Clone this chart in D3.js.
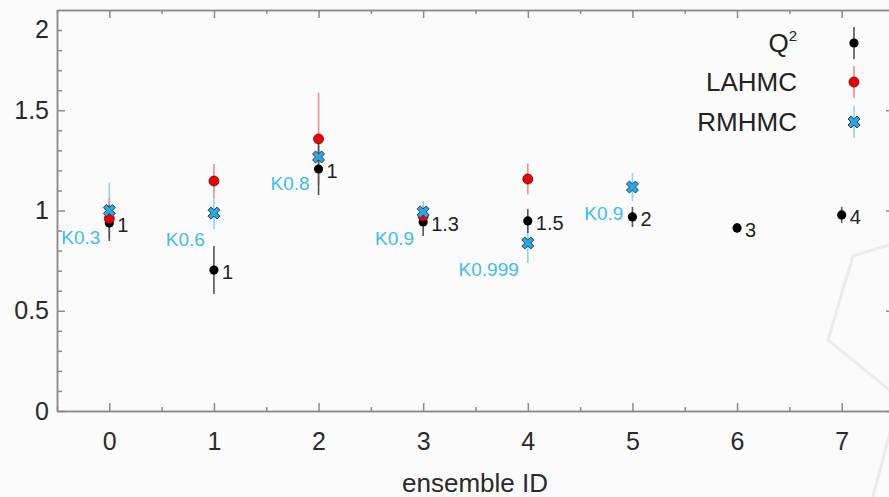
<!DOCTYPE html>
<html lang="en">
<head>
    <meta charset="UTF-8"/>
    <title>ensemble ID chart</title>
    <script src="https://d3js.org/d3.v7.min.js"></script>
    <style>
        body { margin: 0; background: #fbfbfb; }
        svg { display: block; font-family: "Liberation Sans", Arial, sans-serif; }
        .axis path, .axis line { stroke: #8a8a8a; stroke-width: 1.5; }
        .axis text { fill: #2a2a2a; }
    </style>
</head>
<body>
<script>

    var w = 889;
    var h = 497;

    // data set
    var ensembles = [0, 1, 2, 3, 4, 5, 6, 7];

    var q2Values = [0.938, 0.703, 1.207, 0.943, 0.948, 0.968, 0.913, 0.978];
    var q2Errors = [0.09, 0.12, 0.13, 0.07, 0.06, 0.05, 0.025, 0.04];
    var q2Labels = ["1", "1", "1", "1.3", "1.5", "2", "3", "4"];

    var laEnsembles = [0, 1, 2, 3, 4];
    var laValues = [0.96, 1.147, 1.357, 0.972, 1.157];
    var laErrors = [0.10, 0.085, 0.23, 0.05, 0.077];

    var rmEnsembles = [0, 1, 2, 3, 4, 5];
    var rmValues = [1.0, 0.987, 1.267, 0.993, 0.838, 1.117];
    var rmErrors = [0.14, 0.08, 0.05, 0.055, 0.10, 0.07];
    var rmLabels = ["K0.3", "K0.6", "K0.8", "K0.9", "K0.999", "K0.9"];

    var yTicks = [0, 0.5, 1, 1.5];

    var xScale = d3.scaleLinear()
                    .domain([-0.5, 7.5])
                    .range([57, 894]);

    var yScale = d3.scaleLinear()
                    .domain([0, 2])
                    .range([411, 10]);

    var svg = d3.select("body")
                .append("svg")
                .attr("width", w)
                .attr("height", h);

    svg.append("rect")
        .attr("width", w).attr("height", h)
        .attr("fill", "#fbfbfb");

    // faint watermark shape in the corner
    var mark = d3.line();
    svg.append("path")
        .attr("d", mark([[892, 244], [853, 256], [828, 340], [892, 392]]))
        .attr("fill", "none").attr("stroke", "#ebebeb").attr("stroke-width", 3);
    svg.append("path")
        .attr("d", mark([[892, 425], [872, 500]]))
        .attr("fill", "none").attr("stroke", "#ebebeb").attr("stroke-width", 3);

    // axes: major + minor ticks on all four sides
    var halfTicks = d3.range(-0.5, 7.6, 1);
    var tenthTicks = d3.range(0.1, 2.0, 0.1).filter(function(v){
        return Math.abs(v * 2 - Math.round(v * 2)) > 0.01;
    });

    svg.append("g").attr("class", "axis")
        .attr("transform", "translate(0," + yScale(0) + ")")
        .call(d3.axisBottom(xScale).tickValues(ensembles).tickFormat(d3.format("d"))
            .tickSizeInner(-8).tickSizeOuter(0).tickPadding(21))
        .selectAll("text").style("font-size", "25px");

    svg.append("g").attr("class", "axis")
        .attr("transform", "translate(0," + yScale(0) + ")")
        .call(d3.axisBottom(xScale).tickValues(halfTicks).tickFormat("")
            .tickSizeInner(-4).tickSizeOuter(0));

    svg.append("g").attr("class", "axis")
        .attr("transform", "translate(0," + yScale(2) + ")")
        .call(d3.axisTop(xScale).tickValues(ensembles).tickFormat("")
            .tickSizeInner(-8).tickSizeOuter(0));

    svg.append("g").attr("class", "axis")
        .attr("transform", "translate(0," + yScale(2) + ")")
        .call(d3.axisTop(xScale).tickValues(halfTicks).tickFormat("")
            .tickSizeInner(-4).tickSizeOuter(0));

    svg.append("g").attr("class", "axis")
        .attr("transform", "translate(" + xScale(-0.5) + ",0)")
        .call(d3.axisLeft(yScale).tickValues(yTicks).tickFormat(d3.format("~g"))
            .tickSizeInner(-8).tickSizeOuter(0).tickPadding(8))
        .selectAll("text").style("font-size", "25px");

    svg.append("g").attr("class", "axis")
        .attr("transform", "translate(" + xScale(-0.5) + ",0)")
        .call(d3.axisLeft(yScale).tickValues(tenthTicks).tickFormat("")
            .tickSizeInner(-5).tickSizeOuter(0));

    svg.append("g").attr("class", "axis")
        .attr("transform", "translate(" + xScale(7.5) + ",0)")
        .call(d3.axisRight(yScale).tickValues(yTicks).tickFormat("")
            .tickSizeInner(-8).tickSizeOuter(0));

    svg.append("g").attr("class", "axis")
        .attr("transform", "translate(" + xScale(7.5) + ",0)")
        .call(d3.axisRight(yScale).tickValues(tenthTicks).tickFormat("")
            .tickSizeInner(-5).tickSizeOuter(0));

    // top label "2" sits a little below the frame edge
    svg.append("text")
        .attr("x", xScale(-0.5) - 8)
        .attr("y", yScale(1.9) + 8)
        .attr("text-anchor", "end")
        .style("font-size", "25px")
        .attr("fill", "#2a2a2a")
        .text("2");

    svg.append("text")
        .attr("x", 475)
        .attr("y", 492)
        .attr("text-anchor", "middle")
        .style("font-size", "26px")
        .attr("fill", "#2a2a2a")
        .text("ensemble ID");

    // error bars: blue, red, then black
    function errBars(xs, vals, errs, color, width) {
        svg.append("g").selectAll("line")
            .data(vals)
            .enter()
            .append("line")
            .attr("x1", function(d, i){ return xScale(xs[i]); })
            .attr("x2", function(d, i){ return xScale(xs[i]); })
            .attr("y1", function(d, i){ return yScale(d - errs[i]); })
            .attr("y2", function(d, i){ return yScale(d + errs[i]); })
            .attr("stroke", color)
            .attr("stroke-width", width);
    }
    errBars(rmEnsembles, rmValues, rmErrors, "#86d4f5", 1.6);
    errBars(laEnsembles, laValues, laErrors, "#f58a8a", 1.6);
    errBars(ensembles, q2Values, q2Errors, "#555", 1.6);

    // markers
    svg.append("g").selectAll("circle")
        .data(q2Values)
        .enter()
        .append("circle")
        .attr("cx", function(d, i){ return xScale(ensembles[i]); })
        .attr("cy", function(d){ return yScale(d); })
        .attr("r", 4.6)
        .attr("fill", "#000");

    svg.append("g").selectAll("circle")
        .data(laValues)
        .enter()
        .append("circle")
        .attr("cx", function(d, i){ return xScale(laEnsembles[i]); })
        .attr("cy", function(d){ return yScale(d); })
        .attr("r", 5)
        .attr("fill", "#f00000")
        .attr("stroke", "#5a1010")
        .attr("stroke-width", 0.8);

    var xSymbol = d3.symbol().type(d3.symbolCross).size(90);

    svg.append("g").selectAll("path")
        .data(rmValues)
        .enter()
        .append("path")
        .attr("d", xSymbol)
        .attr("transform", function(d, i){
            return "translate(" + xScale(rmEnsembles[i]) + "," + yScale(d) + ") rotate(45)";
        })
        .attr("fill", "#2aa6e6")
        .attr("stroke", "#1d3c55")
        .attr("stroke-width", 0.9);

    // text labels beside points
    svg.append("g").selectAll("text")
        .data(q2Labels)
        .enter()
        .append("text")
        .attr("x", function(d, i){ return xScale(ensembles[i]) + 8; })
        .attr("y", function(d, i){ return yScale(q2Values[i]) + 9; })
        .style("font-size", "20px")
        .attr("fill", "#222")
        .text(function(d){ return d; });

    svg.append("g").selectAll("text")
        .data(rmLabels)
        .enter()
        .append("text")
        .attr("x", function(d, i){ return xScale(rmEnsembles[i]) - 9; })
        .attr("y", function(d, i){ return yScale(rmValues[i]) + 33; })
        .attr("text-anchor", "end")
        .style("font-size", "19px")
        .attr("fill", "#3dbbf3")
        .text(function(d){ return d; });

    // legend
    var legendRows = [43, 82, 122];
    var legend = svg.append("g");

    var q = legend.append("text")
        .attr("x", 797).attr("y", legendRows[0] + 9)
        .attr("text-anchor", "end")
        .style("font-size", "26px").attr("fill", "#222");
    q.append("tspan").text("Q");
    q.append("tspan").attr("dy", -11).style("font-size", "15px").text("2");

    legend.append("text")
        .attr("x", 797).attr("y", legendRows[1] + 9)
        .attr("text-anchor", "end")
        .style("font-size", "26px").attr("fill", "#222")
        .text("LAHMC");

    legend.append("text")
        .attr("x", 797).attr("y", legendRows[2] + 9)
        .attr("text-anchor", "end")
        .style("font-size", "26px").attr("fill", "#222")
        .text("RMHMC");

    var lx = 854;
    legend.append("line").attr("x1", lx).attr("x2", lx)
        .attr("y1", legendRows[0] - 16).attr("y2", legendRows[0] + 16)
        .attr("stroke", "#555").attr("stroke-width", 1.6);
    legend.append("circle").attr("cx", lx).attr("cy", legendRows[0])
        .attr("r", 4.6).attr("fill", "#000");

    legend.append("line").attr("x1", lx).attr("x2", lx)
        .attr("y1", legendRows[1] - 16).attr("y2", legendRows[1] + 16)
        .attr("stroke", "#f58a8a").attr("stroke-width", 1.6);
    legend.append("circle").attr("cx", lx).attr("cy", legendRows[1])
        .attr("r", 5).attr("fill", "#f00000")
        .attr("stroke", "#5a1010").attr("stroke-width", 0.8);

    legend.append("line").attr("x1", lx).attr("x2", lx)
        .attr("y1", legendRows[2] - 16).attr("y2", legendRows[2] + 16)
        .attr("stroke", "#86d4f5").attr("stroke-width", 1.6);
    legend.append("path").attr("d", xSymbol)
        .attr("transform", "translate(" + lx + "," + legendRows[2] + ") rotate(45)")
        .attr("fill", "#2aa6e6")
        .attr("stroke", "#1d3c55").attr("stroke-width", 0.9);

</script>
</body>
</html>
